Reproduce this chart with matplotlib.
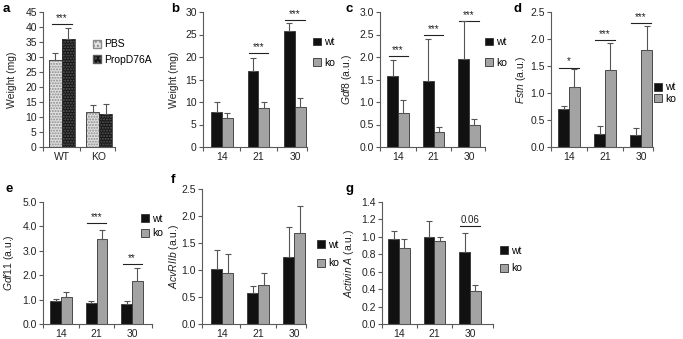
import matplotlib
matplotlib.use('Agg')
import matplotlib.pyplot as plt
from matplotlib.patches import Patch

plt.rcParams['font.family'] = ['Liberation Sans', 'DejaVu Sans']
plt.rcParams['mathtext.fontset'] = 'custom'
plt.rcParams['mathtext.rm'] = 'Liberation Sans'
plt.rcParams['mathtext.it'] = 'Liberation Sans:italic'
plt.rcParams['font.size'] = 7

# panel a
a_groups = ['WT', 'KO']
a_pbs = [29.0, 11.8]
a_pbs_err = [2.5, 2.1]
a_prop = [36.0, 11.1]
a_prop_err = [3.6, 3.2]

# panels b-g
ages = ['14', '21', '30']
b_wt = [7.7, 16.8, 25.8]
b_wt_err = [2.3, 3.0, 1.7]
b_ko = [6.5, 8.6, 8.9]
b_ko_err = [1.0, 1.4, 2.0]

c_wt = [1.57, 1.47, 1.95]
c_wt_err = [0.37, 0.94, 0.84]
c_ko = [0.75, 0.33, 0.48]
c_ko_err = [0.29, 0.12, 0.14]

d_wt = [0.70, 0.25, 0.23]
d_wt_err = [0.06, 0.14, 0.12]
d_ko = [1.12, 1.43, 1.80]
d_ko_err = [0.32, 0.50, 0.45]

e_wt = [0.93, 0.88, 0.80]
e_wt_err = [0.10, 0.06, 0.15]
e_ko = [1.12, 3.50, 1.78]
e_ko_err = [0.18, 0.37, 0.50]

f_wt = [1.02, 0.58, 1.25]
f_wt_err = [0.35, 0.12, 0.55]
f_ko = [0.95, 0.72, 1.68]
f_ko_err = [0.35, 0.22, 0.50]

g_wt = [0.98, 1.00, 0.83]
g_wt_err = [0.09, 0.18, 0.22]
g_ko = [0.87, 0.95, 0.38]
g_ko_err = [0.10, 0.05, 0.07]

W, H = 683, 339
fig = plt.figure(figsize=(W / 100, H / 100), dpi=100)

AX_COL = '#5a5a5a'
ERR_COL = '#555555'


def px_axes(x0, x1, ytop, ybot):
    return fig.add_axes([x0 / W, 1 - ybot / H, (x1 - x0) / W, (ybot - ytop) / H])


def style(ax, xlim, ylim, yticks, fmt, xlabels, centers, ylabel, label_px):
    ax.set_xlim(*xlim)
    ax.set_ylim(*ylim)
    ax.set_yticks(yticks)
    ax.set_yticklabels([fmt.format(v) for v in yticks])
    for s in ['top', 'right']:
        ax.spines[s].set_visible(False)
    for s in ['left', 'bottom']:
        ax.spines[s].set_color(AX_COL)
        ax.spines[s].set_linewidth(0.8)
    ax.tick_params(axis='y', length=3, width=0.8, color=AX_COL, pad=1.5, labelsize=7.5, labelcolor='#222222')
    ax.set_xticks(centers)
    ax.set_xticklabels(xlabels)
    ax.tick_params(axis='x', length=0, pad=3.5, labelsize=7.5, labelcolor='#222222')
    bounds = [xlim[0]] + [(centers[i] + centers[i + 1]) / 2 for i in range(len(centers) - 1)] + [xlim[1]]
    ax.set_xticks(bounds, minor=True)
    ax.tick_params(axis='x', which='minor', length=3, width=0.8, color=AX_COL)
    ax.set_ylabel(ylabel, fontsize=7.5, color='#222222')
    bbox = ax.get_position()
    ax.yaxis.set_label_coords(-label_px / (bbox.width * W), 0.5)


def sig(ax, x, y, text, half=0.27, dy=0.0):
    ax.plot([x - half, x + half], [y, y], color='#222222', lw=0.8)
    ax.text(x, y + dy, text, ha='center', va='bottom', fontsize=7, color='#222222')


def pair_panel(ax, wt, wt_err, ko, ko_err, w=0.3):
    xs = list(range(len(wt)))
    ax.bar([x - w / 2 for x in xs], wt, w, color='#111111', edgecolor='#333333', linewidth=0.6,
           yerr=[[0] * len(wt), wt_err], error_kw=dict(ecolor=ERR_COL, elinewidth=0.8, capsize=2.2, capthick=0.8),
           label='wt', zorder=2)
    ax.bar([x + w / 2 for x in xs], ko, w, color='#a3a3a3', edgecolor='#333333', linewidth=0.6,
           yerr=[[0] * len(ko), ko_err], error_kw=dict(ecolor=ERR_COL, elinewidth=0.8, capsize=2.2, capthick=0.8),
           label='ko', zorder=2)
    return xs


def add_legend(ax, handles, labels, xpx, ymid, spacing):
    ax.legend(handles, labels, loc='center left', bbox_to_anchor=(xpx / W, 1 - ymid / H),
              bbox_transform=fig.transFigure, frameon=False, fontsize=7.5,
              handlelength=0.75, handleheight=0.75, handletextpad=0.3,
              labelspacing=spacing, borderpad=0, borderaxespad=0)


def pair_handles():
    return [Patch(facecolor='#111111', edgecolor='#333333', linewidth=0.6),
            Patch(facecolor='#a3a3a3', edgecolor='#333333', linewidth=0.6)]


# ---- panel a
ax = px_axes(43, 115, 12, 147)
w = 0.35
xs = list(range(len(a_groups)))
pbs_x = [x - w / 2 for x in xs]
prop_x = [x + w / 2 for x in xs]
ax.bar(pbs_x, a_pbs, w, color='#e2e2e2', edgecolor='#8a8a8a', hatch='......', linewidth=0, zorder=2)
ax.bar(prop_x, a_prop, w, color='#151515', edgecolor='#5a5a5a', hatch='......', linewidth=0, zorder=2)
ax.bar(pbs_x, a_pbs, w, fill=False, edgecolor='#333333', linewidth=0.6,
       yerr=[[0, 0], a_pbs_err], error_kw=dict(ecolor=ERR_COL, elinewidth=0.8, capsize=2.2, capthick=0.8), zorder=3)
ax.bar(prop_x, a_prop, w, fill=False, edgecolor='#333333', linewidth=0.6,
       yerr=[[0, 0], a_prop_err], error_kw=dict(ecolor=ERR_COL, elinewidth=0.8, capsize=2.2, capthick=0.8), zorder=3)
style(ax, (-0.51, 1.43), (0, 45), list(range(0, 46, 5)), '{:.0f}', a_groups, xs, 'Weight (mg)', 26)
sig(ax, 0, 41, '***', half=0.28, dy=0.3)
add_legend(ax, [Patch(facecolor='#e2e2e2', edgecolor='#8a8a8a', hatch='....'),
                Patch(facecolor='#151515', edgecolor='#5a5a5a', hatch='....')],
           ['PBS', 'PropD76A'], 93, 52, 0.5)

# ---- panel b
ax = px_axes(203, 307, 12, 147)
xs = pair_panel(ax, b_wt, b_wt_err, b_ko, b_ko_err)
style(ax, (-0.52, 2.33), (0, 30), list(range(0, 31, 5)), '{:.0f}', ages, xs, 'Weight (mg)', 24)
sig(ax, 1, 20.9, '***', dy=0.2)
sig(ax, 2, 28.2, '***', dy=0.2)
add_legend(ax, pair_handles(), ['wt', 'ko'], 313, 52.5, 1.0)

# ---- panel c
ax = px_axes(380, 485, 12, 147)
xs = pair_panel(ax, c_wt, c_wt_err, c_ko, c_ko_err)
style(ax, (-0.51, 2.45), (0, 3.0), [0, 0.5, 1.0, 1.5, 2.0, 2.5, 3.0], '{:.1f}', ages, xs,
      r'$\mathit{Gdf8}$ (a.u.)', 26)
sig(ax, 0, 2.02, '***', dy=0.02)
sig(ax, 1, 2.49, '***', dy=0.02)
sig(ax, 2, 2.81, '***', dy=0.02)
add_legend(ax, pair_handles(), ['wt', 'ko'], 485, 52.5, 1.0)

# ---- panel d
ax = px_axes(551, 653, 12, 147)
xs = pair_panel(ax, d_wt, d_wt_err, d_ko, d_ko_err)
style(ax, (-0.5, 2.33), (0, 2.5), [0, 0.5, 1.0, 1.5, 2.0, 2.5], '{:.1f}', ages, xs,
      r'$\mathit{Fstn}$ (a.u.)', 23)
sig(ax, 0, 1.47, '*', dy=0.02)
sig(ax, 1, 1.98, '***', dy=0.02)
sig(ax, 2, 2.30, '***', dy=0.02)
add_legend(ax, pair_handles(), ['wt', 'ko'], 654, 93, 0.1)

# ---- panel e
ax = px_axes(43, 152, 202, 324)
xs = pair_panel(ax, e_wt, e_wt_err, e_ko, e_ko_err)
style(ax, (-0.51, 2.56), (0, 5.0), [0, 1.0, 2.0, 3.0, 4.0, 5.0], '{:.1f}', ages, xs,
      r'$\mathit{Gdf11}$ (a.u.)', 27)
sig(ax, 1, 4.14, '***', dy=0.04)
sig(ax, 2, 2.45, '**', dy=0.04)
add_legend(ax, pair_handles(), ['wt', 'ko'], 141, 226, 0.45)

# ---- panel f
ax = px_axes(202, 306, 189, 324)
xs = pair_panel(ax, f_wt, f_wt_err, f_ko, f_ko_err)
style(ax, (-0.56, 2.33), (0, 2.5), [0, 0.5, 1.0, 1.5, 2.0, 2.5], '{:.1f}', ages, xs,
      r'$\mathit{AcvRIIb}$ (a.u.)', 21)
add_legend(ax, pair_handles(), ['wt', 'ko'], 317, 254, 0.85)

# ---- panel g
ax = px_axes(382, 493, 202, 324)
xs = pair_panel(ax, g_wt, g_wt_err, g_ko, g_ko_err)
style(ax, (-0.48, 2.65), (0, 1.4), [0, 0.2, 0.4, 0.6, 0.8, 1.0, 1.2, 1.4], '{:.1f}', ages, xs,
      r'$\mathit{Activin}$ $\mathit{A}$ (a.u.)', 26)
sig(ax, 2, 1.12, '0.06', dy=0.02)
add_legend(ax, pair_handles(), ['wt', 'ko'], 500, 259.5, 0.75)

# panel letters
for letter, xp, yp in [('a', 3, 9), ('b', 171, 9), ('c', 345, 9), ('d', 513, 9),
                       ('e', 5, 189), ('f', 171, 180), ('g', 345, 189)]:
    fig.text(xp / W, 1 - yp / H, letter, fontsize=9.5, fontweight='bold', va='center', ha='left')

fig.savefig('out.png', dpi=100)
